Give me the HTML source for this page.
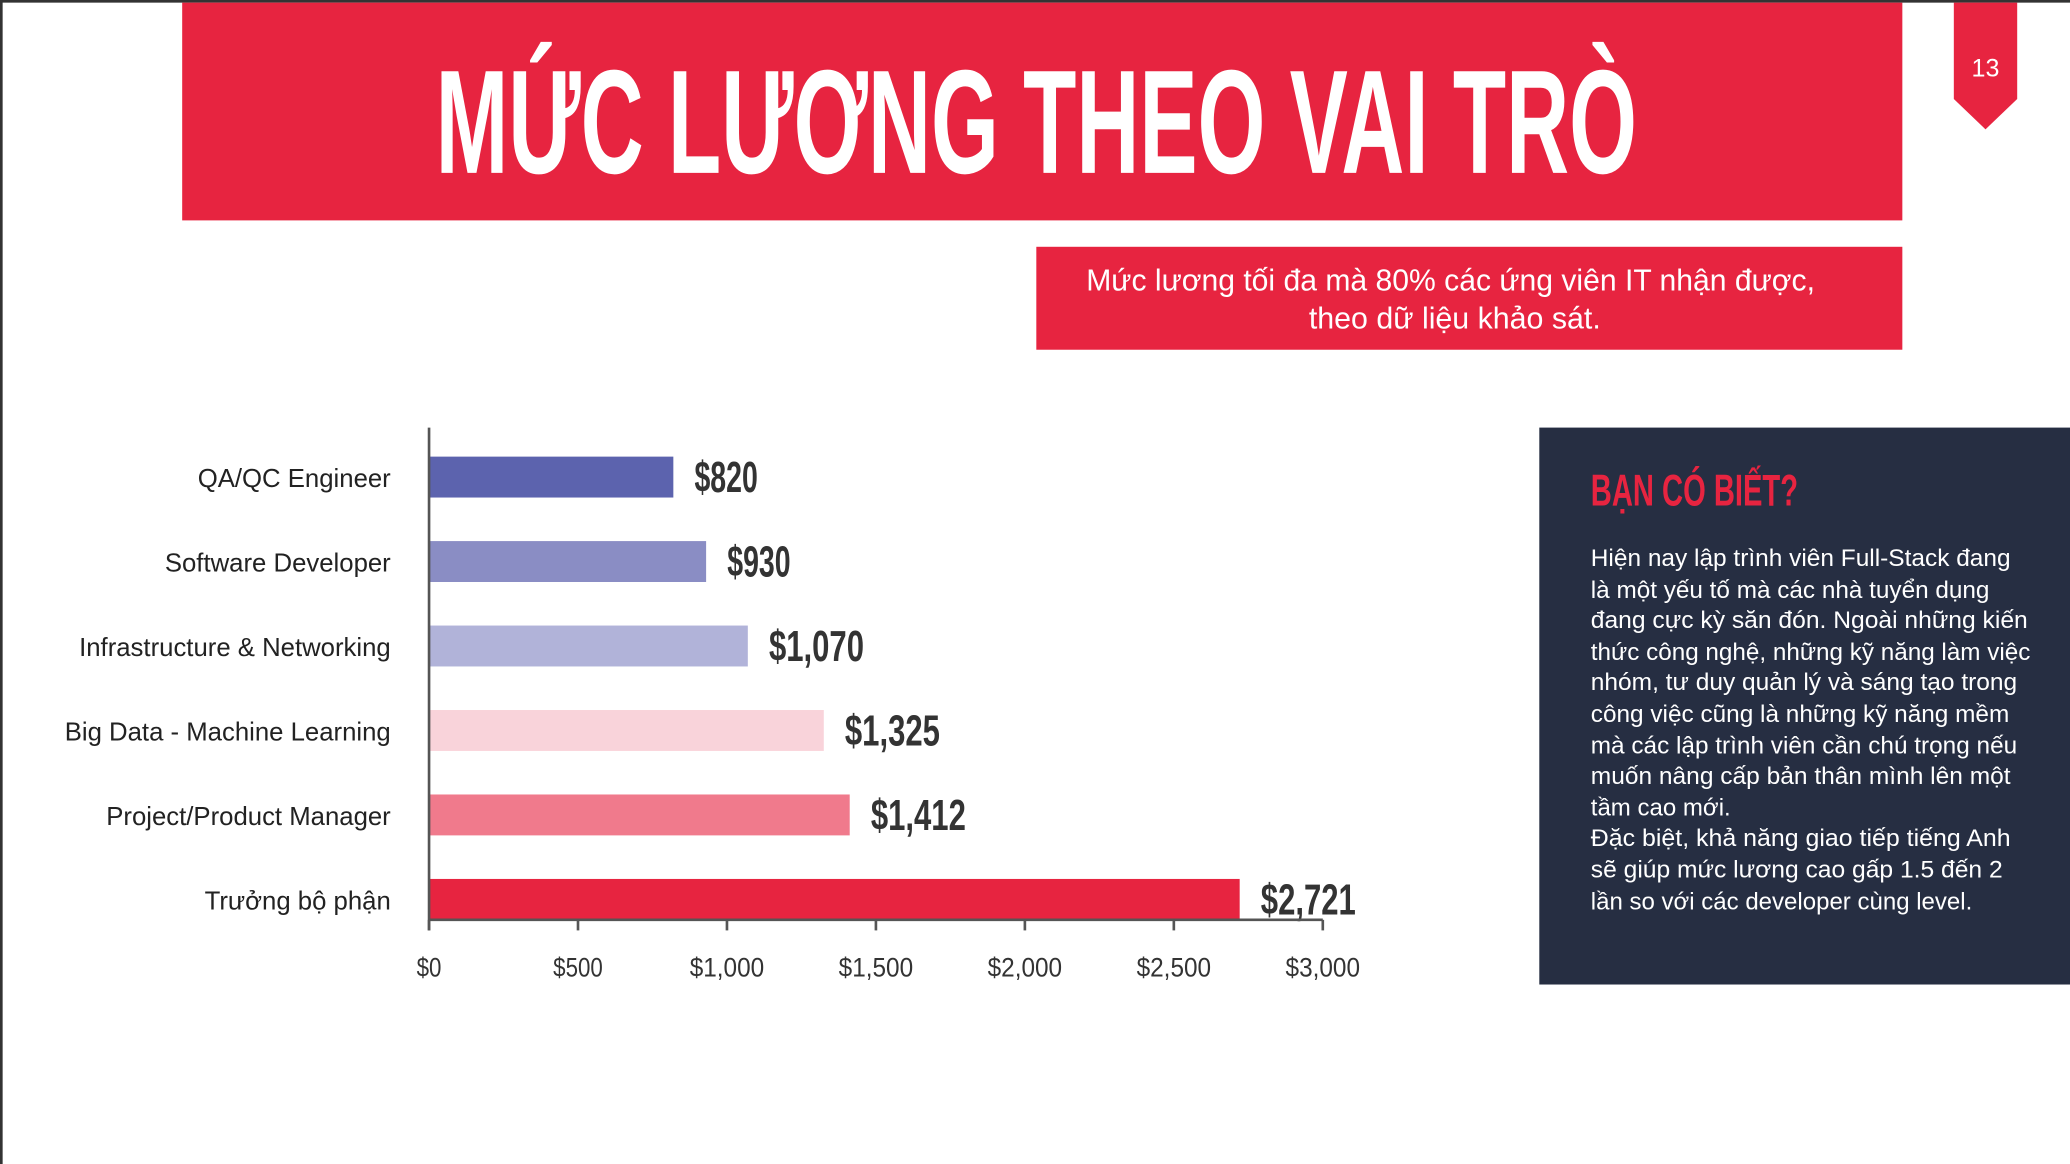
<!DOCTYPE html>
<html><head><meta charset="utf-8">
<style>
html,body{margin:0;padding:0;background:#fff;}
svg{display:block;}
text{font-family:"Liberation Sans","Noto Sans CJK JP",sans-serif;}
</style></head>
<body>
<svg id="page" width="2070" height="1164" viewBox="0 0 1568 882" preserveAspectRatio="none" xmlns="http://www.w3.org/2000/svg">
  <rect x="0" y="0" width="1568" height="882" fill="#fff"/>
  <rect x="0" y="0" width="1568" height="2" fill="#333"/>
  <rect x="0" y="0" width="2" height="882" fill="#333"/>
  <rect x="138" y="2" width="1303" height="165" fill="#e72440"/>
  <text x="330" y="131" font-size="112" font-weight="bold" fill="#fff" textLength="910" lengthAdjust="spacingAndGlyphs">MỨC LƯƠNG THEO VAI TRÒ</text>
  <polygon points="1480,2 1528,2 1528,75 1504,98 1480,75" fill="#e72440"/>
  <text x="1504" y="58" font-size="19" fill="#fff" text-anchor="middle">13</text>
  <rect x="785" y="187" width="656" height="78" fill="#e72440"/>
  <text fill="#fff" font-size="23" text-anchor="middle">
    <tspan x="1102" y="220" textLength="552" lengthAdjust="spacingAndGlyphs">Mức lương tối đa mà 80% các ứng viên IT nhận được,</tspan>
    <tspan x="1102" y="249">theo dữ liệu khảo sát.</tspan>
  </text>
  <g id="chart"></g>
  <rect x="1166" y="324" width="402" height="422" fill="#262e42"/>
  <text x="1205" y="383" font-size="34" font-weight="bold" fill="#e72440" textLength="157" lengthAdjust="spacingAndGlyphs">BẠN CÓ BIẾT?</text>
  <text fill="#fff" font-size="18.5">
    <tspan x="1205" y="429" textLength="318" lengthAdjust="spacingAndGlyphs">Hiện nay lập trình viên Full-Stack đang</tspan>
    <tspan x="1205" y="453" textLength="302" lengthAdjust="spacingAndGlyphs">là một yếu tố mà các nhà tuyển dụng</tspan>
    <tspan x="1205" y="476" textLength="331" lengthAdjust="spacingAndGlyphs">đang cực kỳ săn đón. Ngoài những kiến</tspan>
    <tspan x="1205" y="500" textLength="333" lengthAdjust="spacingAndGlyphs">thức công nghệ, những kỹ năng làm việc</tspan>
    <tspan x="1205" y="523" textLength="323" lengthAdjust="spacingAndGlyphs">nhóm, tư duy quản lý và sáng tạo trong</tspan>
    <tspan x="1205" y="547" textLength="317" lengthAdjust="spacingAndGlyphs">công việc cũng là những kỹ năng mềm</tspan>
    <tspan x="1205" y="571" textLength="323" lengthAdjust="spacingAndGlyphs">mà các lập trình viên cần chú trọng nếu</tspan>
    <tspan x="1205" y="594" textLength="318" lengthAdjust="spacingAndGlyphs">muốn nâng cấp bản thân mình lên một</tspan>
    <tspan x="1205" y="618" textLength="106" lengthAdjust="spacingAndGlyphs">tầm cao mới.</tspan>
    <tspan x="1205" y="641" textLength="318" lengthAdjust="spacingAndGlyphs">Đặc biệt, khả năng giao tiếp tiếng Anh</tspan>
    <tspan x="1205" y="665" textLength="312" lengthAdjust="spacingAndGlyphs">sẽ giúp mức lương cao gấp 1.5 đến 2</tspan>
    <tspan x="1205" y="689" textLength="289" lengthAdjust="spacingAndGlyphs">lần so với các developer cùng level.</tspan>
  </text>
</svg>
<script>
const categories = ["QA/QC Engineer","Software Developer","Infrastructure & Networking","Big Data - Machine Learning","Project/Product Manager","Trưởng bộ phận"];
const salaries = [820, 930, 1070, 1325, 1412, 2721];
const valueLabels = ["$820","$930","$1,070","$1,325","$1,412","$2,721"];
const barColors = ["#5c63ae","#8a8dc4","#b1b3d9","#f9d3da","#f07a8c","#e72440"];
const tickValues = [0,500,1000,1500,2000,2500,3000];
const tickLabels = ["$0","$500","$1,000","$1,500","$2,000","$2,500","$3,000"];

const NS = "http://www.w3.org/2000/svg";
const g = document.getElementById("chart");
const x0 = 325, x1 = 1002, maxV = 3000;
const xScale = v => x0 + (v / maxV) * (x1 - x0);
const rowTop = 346, rowStep = 64, barH = 31;
const yScale = i => rowTop + i * rowStep;
function mk(tag, attrs){ const e=document.createElementNS(NS,tag); for(const k in attrs) e.setAttribute(k, attrs[k]); return e; }

categories.forEach((c, i) => {
  const y = yScale(i);
  const bar = mk("rect", {x: x0, y: y, width: xScale(salaries[i]) - x0, height: barH, fill: barColors[i]});
  
  
  g.appendChild(bar);
  const lab = mk("text", {x: 296, y: y + 23, "font-size": 19.5, fill: "#222", "text-anchor": "end"});
  lab.textContent = c;
  
  
  g.appendChild(lab);
  const vl = mk("text", {x: xScale(salaries[i]) + 16, y: y + 27, "font-size": 33, "font-weight": "bold", fill: "#333", textLength: valueLabels[i].length * 12, lengthAdjust: "spacingAndGlyphs"});
  vl.textContent = valueLabels[i];
  
  
  g.appendChild(vl);
});

const axisY = 697;
const yAxis = mk("line", {x1: x0, y1: 324, x2: x0, y2: 705, stroke: "#555", "stroke-width": 2});


g.appendChild(yAxis);
const xAxis = mk("line", {x1: x0, y1: axisY, x2: x1, y2: axisY, stroke: "#555", "stroke-width": 2});


g.appendChild(xAxis);
tickValues.forEach((v, i) => {
  const tx = xScale(v);
  const t = mk("line", {x1: tx, y1: axisY, x2: tx, y2: 705, stroke: "#555", "stroke-width": 2});
  
  
  g.appendChild(t);
  const tl = mk("text", {x: tx, y: 740, "font-size": 20, fill: "#333", "text-anchor": "middle", textLength: tickLabels[i].length * 9.4, lengthAdjust: "spacingAndGlyphs"});
  tl.textContent = tickLabels[i];
  
  
  g.appendChild(tl);
});
</script>
</body></html>
